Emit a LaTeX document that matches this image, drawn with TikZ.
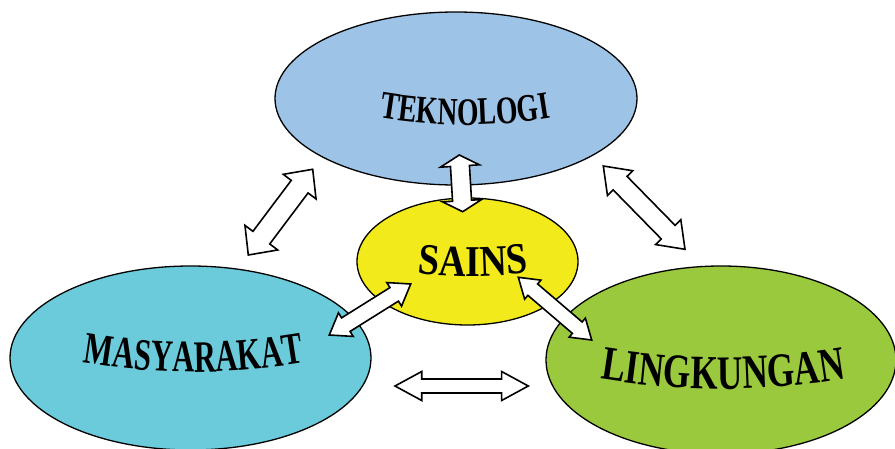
\documentclass[tikz,border=0pt]{standalone}
\usepackage{fontspec}
\usetikzlibrary{shapes.geometric,calc,decorations.text}
% condensed bold serif faces for the arched titles
\newfontfamily\tekfont[FakeStretch=0.71]{Liberation Serif}
\newfontfamily\sainsfont[FakeStretch=0.86]{Liberation Serif}
\newfontfamily\masyfont[FakeStretch=0.68]{Liberation Serif}
\newfontfamily\lingfont[FakeStretch=0.735]{Liberation Serif}
\definecolor{tekblue}{HTML}{9DC3E6}
\definecolor{sainsyellow}{HTML}{F2EA1A}
\definecolor{masycyan}{HTML}{6BCBDB}
\definecolor{linggreen}{HTML}{9AC93E}
\tikzset{
  topic/.style={ellipse, draw=black, line width=1.3pt, inner sep=0pt},
  arrowbox/.style={draw=black, fill=white, line width=1.6pt, line join=miter},
  archtext/.style={decorate, decoration={text along path, text align=center, text={#1}}}
}
% block double arrow between two tips:
% #1,#2 tips, #3 shaft half-width, #4 head half-width, #5 head length
\newcommand\blockarrow[5]{%
  \draw[arrowbox] (#1)
   -- ($(#1)!#5!(#2)!#4!90:(#2)$)
   -- ($(#1)!#5!(#2)!#3!90:(#2)$)
   -- ($(#2)!#5!(#1)!#3!-90:(#1)$)
   -- ($(#2)!#5!(#1)!#4!-90:(#1)$)
   -- (#2)
   -- ($(#2)!#5!(#1)!#4!90:(#1)$)
   -- ($(#2)!#5!(#1)!#3!90:(#1)$)
   -- ($(#1)!#5!(#2)!#3!-90:(#2)$)
   -- ($(#1)!#5!(#2)!#4!-90:(#2)$)
   -- cycle;}
\begin{document}
\begin{tikzpicture}[x=1pt,y=1pt]
\useasboundingbox (0,0) rectangle (895,448);
\clip (0,0) rectangle (895,448);

% the four topics
\node[topic, fill=tekblue,     minimum width=362pt, minimum height=173pt] (tek)   at (456,349.5) {};
\node[topic, fill=masycyan,    minimum width=361pt, minimum height=184pt] (masy)  at (190.5,90) {};
\node[topic, fill=linggreen,   minimum width=350pt, minimum height=188pt] (ling)  at (721,88) {};
\node[topic, fill=sainsyellow, minimum width=221pt, minimum height=127pt] (sains) at (467.5,186.5) {};

% arched titles
\path[archtext={|\tekfont\bfseries\fontsize{39}{39}\selectfont|TEKNOLOGI}]
  (360,333.7) .. controls (430,319.4) and (500,319.4) .. (570,333.7);
\path[archtext={|\sainsfont\bfseries\fontsize{44}{44}\selectfont|SAINS}]
  (398,177.6) .. controls (448,170.1) and (498,170.1) .. (548,177.6);
\path[archtext={|\masyfont\bfseries\fontsize{45}{45}\selectfont|MASYARAKAT}]
  (65,88.6) .. controls (150.7,71.8) and (236.3,71.8) .. (322,88.6);
\path[archtext={|\lingfont\bfseries\fontsize{48}{48}\selectfont|LINGKUNGAN}]
  (582,72.6) .. controls (676.3,54.5) and (770.7,54.5) .. (865,72.6);

% arrow tips
\coordinate (a1) at (312.7,278.7); \coordinate (b1) at (248.3,193);
\coordinate (a2) at (459.3,293);   \coordinate (b2) at (462.7,236.3);
\coordinate (a3) at (603.3,282);   \coordinate (b3) at (685,198.7);
\coordinate (a4) at (410.7,164);   \coordinate (b4) at (329.3,113);
\coordinate (a5) at (518.3,170.7); \coordinate (b5) at (591.7,108);
\coordinate (a6) at (395,62);      \coordinate (b6) at (528.3,62);

% two-way links
\blockarrow{a1}{b1}{10.5pt}{20.5pt}{21.7pt}
\blockarrow{a2}{b2}{9.5pt}{19.5pt}{11pt}
\blockarrow{a3}{b3}{9.7pt}{17.7pt}{24pt}
\blockarrow{a4}{b4}{8pt}{13.9pt}{19.5pt}
\blockarrow{a5}{b5}{7.5pt}{12.5pt}{19pt}
\blockarrow{a6}{b6}{7pt}{14.5pt}{26.7pt}
\end{tikzpicture}
\end{document}
